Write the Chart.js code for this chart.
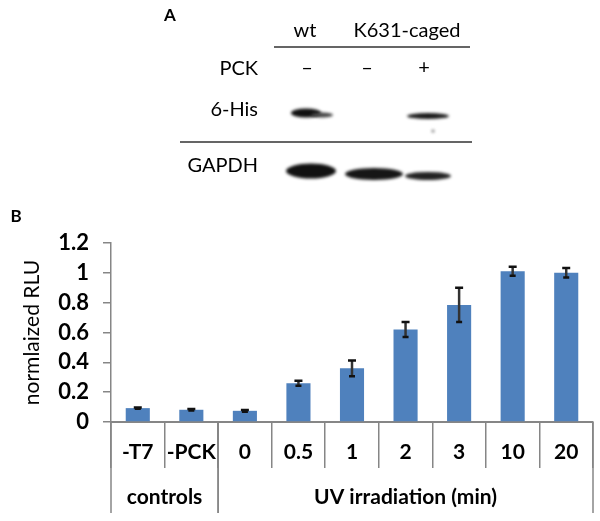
<!DOCTYPE html>
<html>
<head>
<meta charset="utf-8">
<script src="https://cdn.jsdelivr.net/npm/chart.js@4.4.1/dist/chart.umd.min.js"></script>
<style>
  body { margin: 0; background: #fff; }
  #wrap { width: 600px; height: 521px; position: relative; }
</style>
</head>
<body>
<div id="wrap"><canvas id="rluChart"></canvas></div>
<script>
// Data
const categories = ['-T7', '-PCK', '0', '0.5', '1', '2', '3', '10', '20'];
const rluValues = [0.093, 0.082, 0.075, 0.26, 0.36, 0.62, 0.785, 1.01, 1.0];
const rluErrors = [0.005, 0.005, 0.006, 0.017, 0.053, 0.05, 0.115, 0.03, 0.032];
const groupLabels = ['controls', 'UV irradiation (min)'];
const groupStarts = [0, 2];
const groupEnds = [1, 8];

const FONT = 'Lato, "Open Sans", sans-serif';
const GRAY = '#868686';

// Western blot panel (A) drawn above the chart
const blotPanel = {
    id: 'blotPanel',
    beforeDraw(chart) {
        const ctx = chart.ctx;
        ctx.save();
        ctx.fillStyle = '#000';
        ctx.textBaseline = 'middle';

        ctx.font = 'bold 17px ' + FONT;
        ctx.textAlign = 'center';
        ctx.fillText('A', 170, 16);
        ctx.fillText('B', 16, 217);

        ctx.font = '20px ' + FONT;
        ctx.fillText('wt', 305, 31);
        ctx.fillText('K631-caged', 407, 31);
        ctx.fillText('\u2013', 307, 68);
        ctx.fillText('\u2013', 367, 68);
        ctx.fillText('+', 424, 68);

        ctx.textAlign = 'right';
        ctx.fillText('PCK', 258, 69);
        ctx.fillText('6-His', 258, 110);
        ctx.fillText('GAPDH', 258, 166);

        ctx.strokeStyle = '#333';
        ctx.lineWidth = 1.5;
        ctx.beginPath();
        ctx.moveTo(274, 47); ctx.lineTo(470, 47);
        ctx.moveTo(180, 142); ctx.lineTo(472, 142);
        ctx.stroke();

        // bands
        ctx.filter = 'blur(1.6px)';
        const band = (cx, cy, rx, ry, col) => {
            ctx.fillStyle = col;
            ctx.beginPath();
            ctx.ellipse(cx, cy, rx, ry, 0, 0, Math.PI * 2);
            ctx.fill();
        };
        band(306, 113, 15, 4.5, '#111');
        band(322, 115, 11, 2.5, '#444');
        band(428, 116, 21, 3, '#1a1a1a');
        band(433, 131, 1.5, 1.5, '#777');
        band(311, 171, 25, 7.5, '#111');
        band(374, 174, 29, 6, '#161616');
        band(428, 176, 23, 4, '#222');
        ctx.restore();
    }
};

// Error bars
const errorBars = {
    id: 'errorBars',
    afterDatasetsDraw(chart) {
        const ctx = chart.ctx;
        const y = chart.scales.y;
        const meta = chart.getDatasetMeta(0);
        ctx.save();
        meta.data.forEach((bar, i) => {
            const v = rluValues[i], e = rluErrors[i];
            const yTop = y.getPixelForValue(v + e);
            const yBot = y.getPixelForValue(v - e);
            ctx.strokeStyle = '#333';
            ctx.lineWidth = 2.5;
            ctx.beginPath();
            ctx.moveTo(bar.x, yTop); ctx.lineTo(bar.x, yBot);
            ctx.stroke();
            ctx.strokeStyle = '#111';
            ctx.lineWidth = 2.5;
            ctx.beginPath();
            ctx.moveTo(bar.x - 4, yTop); ctx.lineTo(bar.x + 4, yTop);
            ctx.moveTo(bar.x - 3, yBot); ctx.lineTo(bar.x + 3, yBot);
            ctx.stroke();
        });
        ctx.restore();
    }
};

// Group labels under the category axis
const groupAxis = {
    id: 'groupAxis',
    afterDraw(chart) {
        const ctx = chart.ctx;
        const x = chart.scales.x;
        const half = (x.getPixelForValue(1) - x.getPixelForValue(0)) / 2;
        const top = chart.chartArea.bottom;
        ctx.save();
        ctx.strokeStyle = GRAY;
        ctx.lineWidth = 1.5;
        ctx.fillStyle = '#000';
        ctx.font = 'bold 21px ' + FONT;
        ctx.textAlign = 'center';
        ctx.textBaseline = 'middle';
        groupLabels.forEach((label, g) => {
            const x0 = x.getPixelForValue(groupStarts[g]) - half;
            const x1 = x.getPixelForValue(groupEnds[g]) + half;
            ctx.beginPath();
            ctx.moveTo(x0, top); ctx.lineTo(x0, 513);
            ctx.moveTo(x1, top); ctx.lineTo(x1, 513);
            ctx.stroke();
            ctx.fillText(label, (x0 + x1) / 2, 497);
        });
        ctx.restore();
    }
};

new Chart(document.getElementById('rluChart'), {
    type: 'bar',
    data: {
        labels: categories,
        datasets: [{
            data: rluValues,
            backgroundColor: '#4f81bd',
            borderWidth: 0,
            barPercentage: 0.45,
            categoryPercentage: 1
        }]
    },
    options: {
        responsive: true,
        maintainAspectRatio: false,
        animation: false,
        layout: { padding: { top: 243, right: 7, left: 0, bottom: 0 } },
        plugins: { legend: { display: false }, tooltip: { enabled: false } },
        scales: {
            x: {
                afterFit: (scale) => { scale.height = 99; },
                grid: { offset: true, drawOnChartArea: false, tickLength: 46, color: GRAY, lineWidth: 1.5 },
                border: { color: GRAY, width: 2 },
                ticks: { color: '#000', font: { family: FONT, size: 21, weight: 'bold' }, padding: -28, maxRotation: 0, autoSkip: false }
            },
            y: {
                min: 0,
                max: 1.2,
                afterFit: (scale) => { scale.width = 111; },
                grid: { drawOnChartArea: false, tickLength: 8, color: GRAY, lineWidth: 1.5 },
                border: { color: GRAY, width: 1.5 },
                ticks: {
                    stepSize: 0.2, color: '#000', padding: 14,
                    font: { family: FONT, size: 22, weight: 'bold' },
                    callback: (v) => String(+v.toFixed(1))
                },
                title: { display: true, text: 'normlaized RLU', color: '#000', font: { family: FONT, size: 21 }, padding: { top: 20 } }
            }
        }
    },
    plugins: [blotPanel, errorBars, groupAxis]
});
</script>
</body>
</html>
